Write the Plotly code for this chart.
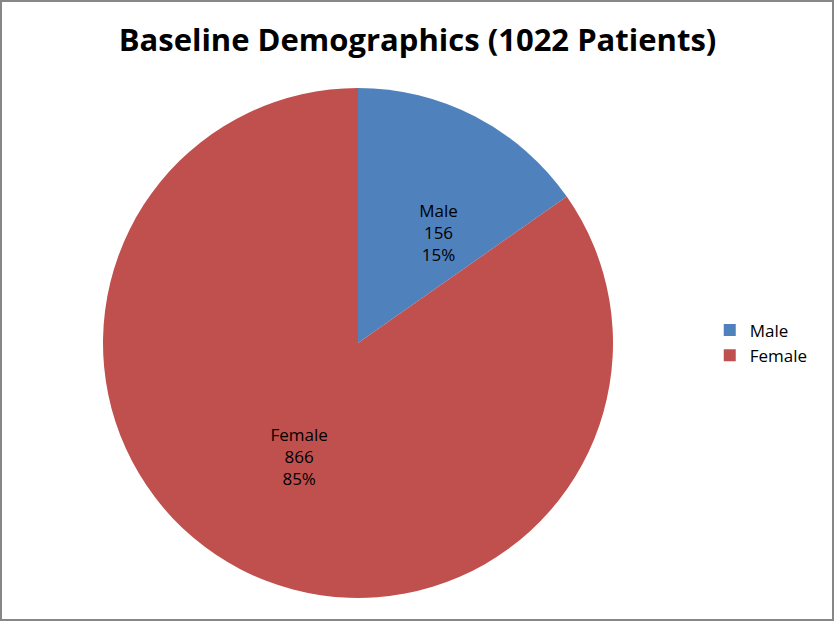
import plotly.graph_objects as go

title_text = "Baseline Demographics (1022 Patients)"
labels = ["Male", "Female"]
values = [156, 866]
colors = ["#4F81BD", "#C0504D"]

W, H = 835, 622
FONT = "Open Sans, sans-serif"

base_tpl = "%{label}<br>%{value}<br>%{percent:.0%}"
# blank leading lines nudge the small slice's label toward the pie centre
templates = ["\u00a0<br>" * 4 + base_tpl, base_tpl]

fig = go.Figure()

fig.add_trace(go.Pie(
    labels=labels,
    values=values,
    sort=False,
    direction="clockwise",
    rotation=0,
    marker=dict(colors=colors, line=dict(width=0)),
    texttemplate=templates,
    textposition="inside",
    insidetextorientation="horizontal",
    textfont=dict(family=FONT, size=17, color="black"),
    hoverinfo="label+value+percent",
    domain=dict(x=[103 / W, 613 / W], y=[1 - 598 / H, 1 - 88 / H]),
))

fig.update_layout(
    width=W, height=H,
    margin=dict(l=0, r=0, t=0, b=0),
    paper_bgcolor="white",
    title=dict(text="<b>" + title_text + "</b>", x=0.5, xanchor="center",
               y=1 - 40 / H, yanchor="middle",
               font=dict(family=FONT, size=31, color="black")),
    legend=dict(x=0.850, y=1 - 343 / H, xanchor="left", yanchor="middle",
                font=dict(family=FONT, size=17, color="black"),
                itemwidth=30),
    uniformtext=dict(minsize=17, mode="show"),
    shapes=[dict(type="rect", xref="paper", yref="paper",
                 x0=1 / W, x1=1 - 2 / W, y0=2 / H, y1=1 - 1 / H,
                 line=dict(color="#878787", width=2))],
)

# page body has a default 8px margin; drop it so the chart fills the window
fig.write_html("out.html", config={"displayModeBar": False},
               post_script="document.body.style.margin='0px';")
